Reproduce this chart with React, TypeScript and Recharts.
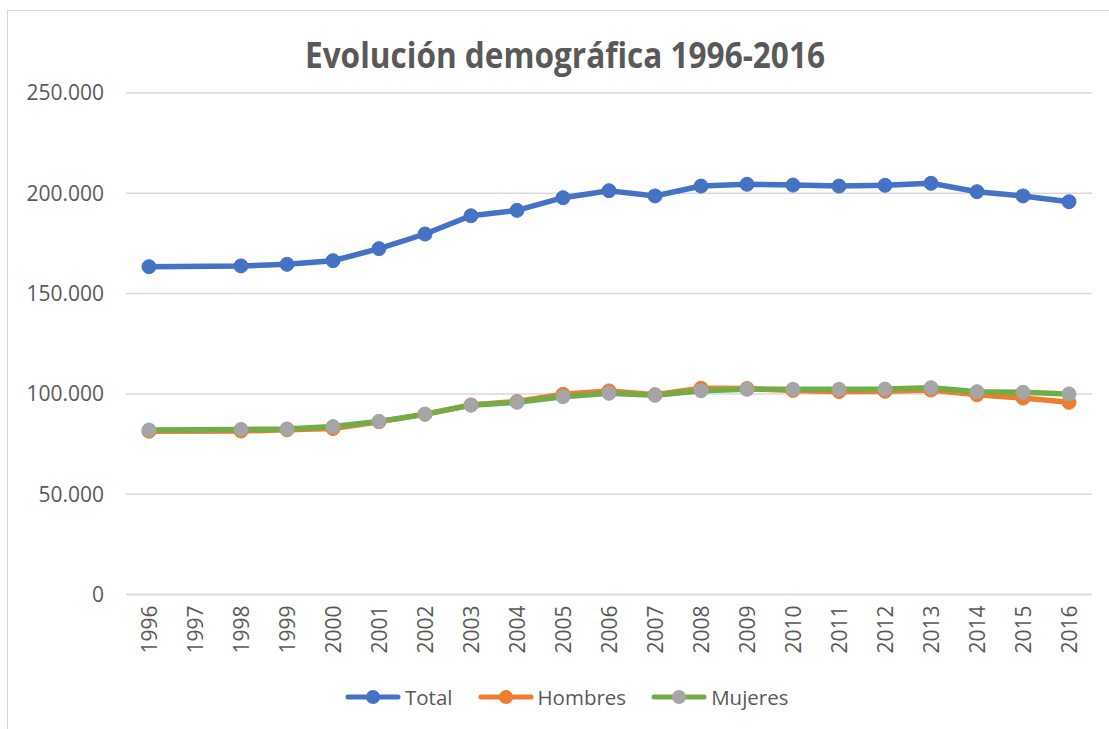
import React from 'react';
import { LineChart, Line, XAxis, YAxis, CartesianGrid, Legend } from 'recharts';

const years = ['1996', '1997', '1998', '1999', '2000', '2001', '2002', '2003', '2004', '2005', '2006', '2007', '2008', '2009', '2010', '2011', '2012', '2013', '2014', '2015', '2016'];
const total = [163400, null, 163800, 164600, 166400, 172400, 179700, 188800, 191500, 197800, 201300, 198700, 203600, 204500, 204100, 203600, 204000, 205000, 200800, 198700, 195800];
const hombres = [81400, null, 81500, 82100, 82700, 86100, 89900, 94500, 96200, 99800, 101500, 99600, 102800, 102700, 101700, 101200, 101300, 101900, 99600, 97900, 95800];
const mujeres = [82000, null, 82300, 82500, 83700, 86300, 89800, 94400, 95800, 98600, 100300, 99300, 101600, 102300, 102300, 102300, 102400, 103100, 101100, 100800, 100000];
const yTicks = [0, 50000, 100000, 150000, 200000, 250000];

const data = years.map((y, i) => ({ year: y, Total: total[i], Hombres: hombres[i], Mujeres: mujeres[i] }));

const FONT = '"Open Sans", sans-serif';
const TEXT = '#595959';
const GRID = '#D9D9D9';

const fmt = (v: number) => (v === 0 ? '0' : String(v).replace(/\B(?=(\d{3})+(?!\d))/g, '.'));

const XTick = (props: any) => {
  const { x, y, payload } = props;
  return (
    <g transform={`translate(${x},${y})`}>
      <text transform="rotate(-90)" textAnchor="end" dy="0.36em" fill={TEXT} fontFamily={FONT} fontSize={21}>
        {payload.value}
      </text>
    </g>
  );
};

const legendItems = [
  { name: 'Total', line: '#4472C4', dot: '#4472C4' },
  { name: 'Hombres', line: '#ED7D31', dot: '#ED7D31' },
  { name: 'Mujeres', line: '#70AD47', dot: '#A5A5A5' },
];

const LegendContent = () => (
  <div style={{ display: 'flex', alignItems: 'center', height: 34, paddingLeft: 345, fontFamily: FONT, fontSize: 20.5, color: TEXT }}>
    {legendItems.map((it) => (
      <div key={it.name} style={{ display: 'flex', alignItems: 'center', marginRight: 25 }}>
        <svg width={56} height={18} style={{ marginRight: 4 }}>
          <line x1={3} x2={53} y1={9} y2={9} stroke={it.line} strokeWidth={5} strokeLinecap="round" />
          <circle cx={28} cy={9} r={7} fill={it.dot} />
        </svg>
        <span>{it.name}</span>
      </div>
    ))}
  </div>
);

export default function App() {
  return (
    <div style={{ position: 'absolute', left: 0, top: 0, width: 1109, height: 729, overflow: 'hidden', background: '#fff' }}>
      <div style={{ position: 'absolute', left: 7, top: 10, width: 1200, height: 800, border: `1.5px solid ${GRID}`, boxSizing: 'border-box' }} />
      <svg style={{ position: 'absolute', left: 0, top: 0 }} width={1109} height={90}>
        <text x={565} y={68} textAnchor="middle" fill={TEXT} fontFamily={FONT} fontWeight={700} fontSize={36} textLength={520} lengthAdjust="spacingAndGlyphs">
          Evolución demográfica 1996-2016
        </text>
      </svg>
      <div style={{ position: 'absolute', left: 0, top: 0 }}>
        <LineChart width={1109} height={729} data={data} margin={{ top: 93, right: 17, left: 0, bottom: 15 }}>
          <CartesianGrid vertical={false} stroke={GRID} strokeWidth={1.5} />
          <XAxis
            dataKey="year"
            interval={0}
            tickLine={false}
            axisLine={{ stroke: GRID, strokeWidth: 1.5 }}
            tickSize={0}
            tickMargin={11}
            height={85.5}
            padding={{ left: 23, right: 23 }}
            tick={<XTick />}
          />
          <YAxis
            domain={[0, 250000]}
            ticks={yTicks}
            tickFormatter={fmt}
            axisLine={false}
            tickLine={false}
            tickSize={0}
            tickMargin={22}
            width={126}
            tick={{ fill: TEXT, fontFamily: FONT, fontSize: 21 }}
          />
          <Legend verticalAlign="bottom" content={<LegendContent />} wrapperStyle={{ left: 0, width: 1109 }} />
          <Line type="linear" dataKey="Total" stroke="#4472C4" strokeWidth={5.5} connectNulls isAnimationActive={false}
            dot={{ r: 7, fill: '#4472C4', stroke: '#4472C4', strokeWidth: 1 }} activeDot={false} />
          <Line type="linear" dataKey="Hombres" stroke="#ED7D31" strokeWidth={5.5} connectNulls isAnimationActive={false}
            dot={{ r: 7, fill: '#ED7D31', stroke: '#ED7D31', strokeWidth: 1 }} activeDot={false} />
          <Line type="linear" dataKey="Mujeres" stroke="#70AD47" strokeWidth={5.5} connectNulls isAnimationActive={false}
            dot={{ r: 7, fill: '#A5A5A5', stroke: '#A5A5A5', strokeWidth: 1 }} activeDot={false} />
        </LineChart>
      </div>
    </div>
  );
}
